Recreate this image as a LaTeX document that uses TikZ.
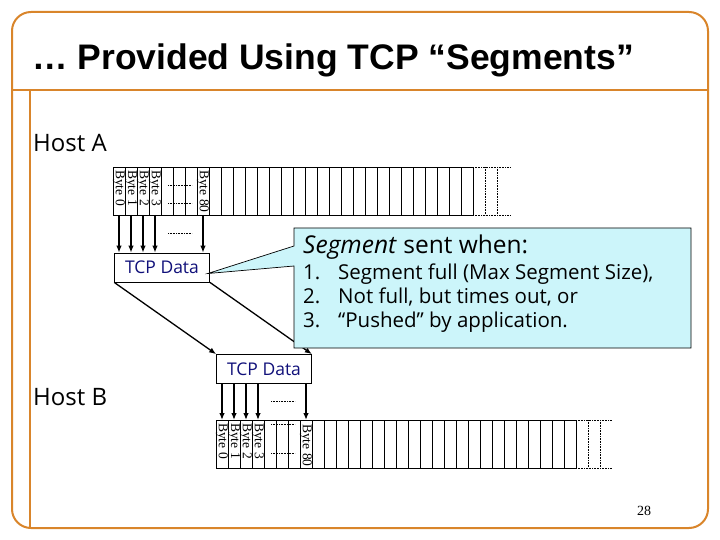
\documentclass[tikz,border=0pt]{standalone}
\usepackage{fontspec}
\setmainfont{Liberation Serif}
\newfontfamily\titlefont{Liberation Sans}
\newfontfamily\comicfont{Open Sans}
\usetikzlibrary{arrows.meta,calc}
\definecolor{frameorange}{HTML}{D9852B}
\definecolor{calloutfill}{HTML}{CCF5FA}
\definecolor{tcpblue}{HTML}{10107A}
\tikzset{
  frameline/.style={draw=frameorange, line width=2pt},
  cell/.style={draw, line width=0.6pt, minimum width=12pt, minimum height=48pt, inner sep=0pt, outer sep=0pt},
  bytelabel/.style={rotate=-90, anchor=west, inner sep=0pt, font=\fontsize{13.5}{14}\selectfont},
  tcpbox/.style={draw, line width=0.7pt, fill=white, minimum width=95pt, minimum height=29pt, inner sep=0pt, text=tcpblue, font=\comicfont\fontsize{17.5}{18}\selectfont},
  arr/.style={line width=1.3pt, -{Latex[length=7pt,width=5.5pt]}},
  dotline/.style={densely dotted, line width=0.6pt},
  hostlabel/.style={anchor=base west, inner sep=0pt, font=\comicfont\fontsize{24}{26}\selectfont},
  itemtext/.style={anchor=base west, inner sep=0pt, font=\comicfont\fontsize{20.5}{22}\selectfont}
}
\begin{document}
\begin{tikzpicture}[x=1pt,y=-1pt]
\useasboundingbox (0,0) rectangle (720,540);
% frame
\draw[frameline, rounded corners=19pt] (12,12) rectangle (708,528);
\draw[frameline] (12,90) -- (708,90);
\draw[frameline] (30,90) -- (30,528);
% title
\node[anchor=base west, inner sep=0pt, font=\titlefont\bfseries\fontsize{35.5}{40}\selectfont] (title) at (32,70) {… Provided Using TCP “Segments”};
% host labels
\node[hostlabel] (hosta) at (33,152) {Host A};
\node[hostlabel] (hostb) at (33,405) {Host B};
% byte array A
\foreach \i in {0,...,29} \node[cell] (a\i) at ({113+12*\i+6},191) {};
\draw[dotline] (a29.north east) -- ++(38,0);
\draw[dotline] (a29.south east) -- ++(38,0);
\draw[dotline] ($(a29.north east)+(12,0)$) -- ($(a29.south east)+(12,0)$);
\draw[dotline] ($(a29.north east)+(24,0)$) -- ($(a29.south east)+(24,0)$);
\draw[dotline] ($(a4.north)+(1,18)$) -- ++(24,0);
\draw[dotline] ($(a4.north)+(1,36)$) -- ++(24,0);
\node[bytelabel] at ($(a0.north)+(0,3)$) {Byte 0};
\node[bytelabel] at ($(a1.north)+(0,3)$) {Byte 1};
\node[bytelabel] at ($(a2.north)+(0,3)$) {Byte 2};
\node[bytelabel] at ($(a3.north)+(0,3)$) {Byte 3};
\node[bytelabel] at ($(a7.north)+(0,3)$) {Byte 80};
% TCP data boxes
\node[tcpbox] (d1) at (162,267.5) {TCP Data};
\node[tcpbox] (d2) at (264,369) {TCP Data};
% arrows A
\foreach \i in {0,1,2,3,7} \draw[arr] (a\i.south) -- (a\i.south |- d1.north);
\draw[dotline] ($(a4.south)+(1,18)$) -- ++(24,0);
% diagonal arrows
\draw[arr] (d1.south west) -- (d2.north west);
\draw[arr] (d1.south east) -- (d2.north east);
% callout
\coordinate (c1) at (294,228);
\coordinate (c2) at (691,228);
\coordinate (c3) at (691,348);
\coordinate (c4) at (294,348);
\coordinate (cl) at (294,266);
\coordinate (cu) at (294,246);
\coordinate (tip) at ($(d1.east)+(-2,6)$);
\draw[fill=calloutfill, line width=0.7pt] (c1) -- (c2) -- (c3) -- (c4) -- (cl) -- (tip) -- (cu) -- cycle;
\node[anchor=base west, inner sep=0pt, font=\comicfont\fontsize{24.5}{26}\selectfont] (head) at (303,254) {\textit{Segment} sent when:};
\node[itemtext] (n1) at (303,279) {1.};
\node[itemtext] (t1) at (338,279) {Segment full (Max Segment Size),};
\node[itemtext] (n2) at (303,303) {2.};
\node[itemtext] (t2) at (338,303) {Not full, but times out, or};
\node[itemtext] (n3) at (303,327) {3.};
\node[itemtext] (t3) at (338,327) {“Pushed” by application.};
% byte array B
\foreach \i in {0,...,29} \node[cell] (b\i) at ({216+12*\i+6},444) {};
\draw[dotline] (b29.north east) -- ++(36,0);
\draw[dotline] (b29.south east) -- ++(36,0);
\draw[dotline] ($(b29.north east)+(12,0)$) -- ($(b29.south east)+(12,0)$);
\draw[dotline] ($(b29.north east)+(24,0)$) -- ($(b29.south east)+(24,0)$);
\draw[dotline] ($(b4.north)+(1,4)$) -- ++(24,0);
\draw[dotline] ($(b4.north)+(1,33)$) -- ++(24,0);
\node[bytelabel] at ($(b0.north)+(0,3)$) {Byte 0};
\node[bytelabel] at ($(b1.north)+(0,3)$) {Byte 1};
\node[bytelabel] at ($(b2.north)+(0,3)$) {Byte 2};
\node[bytelabel] at ($(b3.north)+(0,3)$) {Byte 3};
\node[bytelabel] at ($(b7.north)+(0,4)$) {Byte 80};
\foreach \i in {0,1,2,3,7} \draw[arr] (b\i.north |- d2.south) -- (b\i.north);
\draw[dotline] ($(b4.north)+(1,-19)$) -- ++(24,0);
% page number
\node[font=\fontsize{14}{16}\selectfont, inner sep=0pt] (pg) at (644,511) {28};
\end{tikzpicture}
\end{document}
